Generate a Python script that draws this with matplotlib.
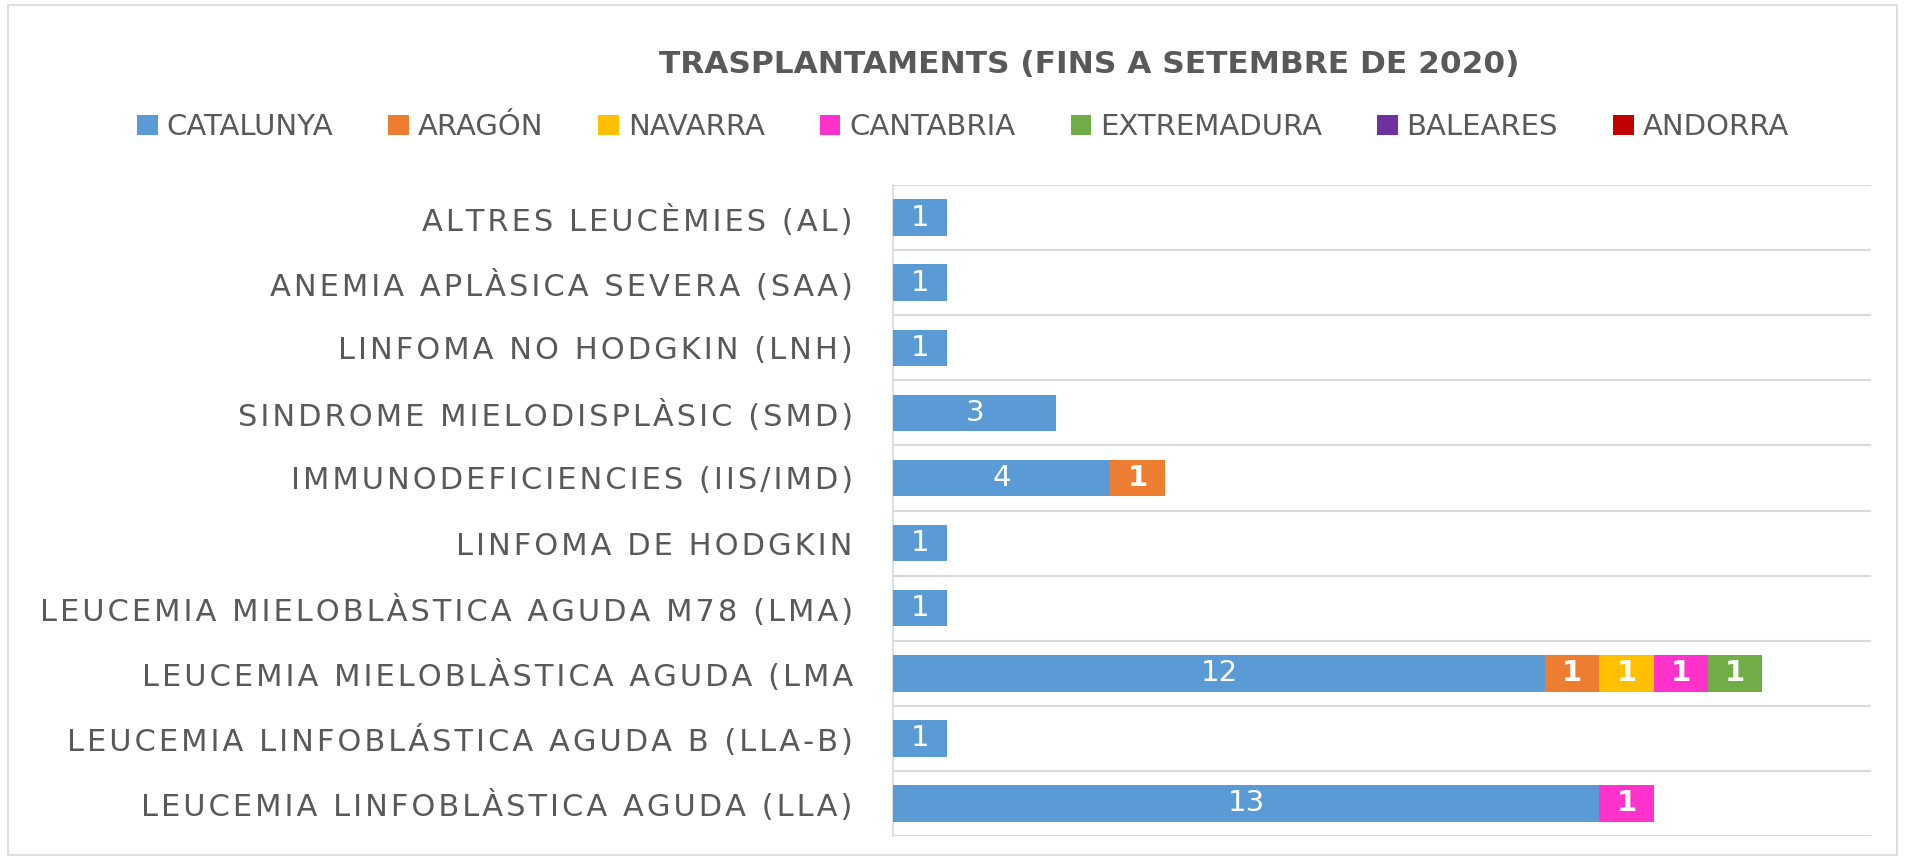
import matplotlib
matplotlib.use("Agg")
import matplotlib.pyplot as plt
import numpy as np

categories = [
    "ALTRES LEUCÈMIES (AL)",
    "ANEMIA APLÀSICA SEVERA (SAA)",
    "LINFOMA NO HODGKIN (LNH)",
    "SINDROME MIELODISPLÀSIC (SMD)",
    "IMMUNODEFICIENCIES (IIS/IMD)",
    "LINFOMA DE HODGKIN",
    "LEUCEMIA MIELOBLÀSTICA AGUDA M78 (LMA)",
    "LEUCEMIA MIELOBLÀSTICA AGUDA (LMA",
    "LEUCEMIA LINFOBLÁSTICA AGUDA B (LLA-B)",
    "LEUCEMIA LINFOBLÀSTICA AGUDA (LLA)",
]
series_names = ["CATALUNYA", "ARAGÓN", "NAVARRA", "CANTABRIA", "EXTREMADURA", "BALEARES", "ANDORRA"]
catalunya   = [1, 1, 1, 3, 4, 1, 1, 12, 1, 13]
aragon      = [0, 0, 0, 0, 1, 0, 0, 1, 0, 0]
navarra     = [0, 0, 0, 0, 0, 0, 0, 1, 0, 0]
cantabria   = [0, 0, 0, 0, 0, 0, 0, 1, 0, 1]
extremadura = [0, 0, 0, 0, 0, 0, 0, 1, 0, 0]
baleares    = [0, 0, 0, 0, 0, 0, 0, 0, 0, 0]
andorra     = [0, 0, 0, 0, 0, 0, 0, 0, 0, 0]
title = "TRASPLANTAMENTS (FINS A SETEMBRE DE 2020)"

colors = ["#5B9BD5", "#ED7D31", "#FFC000", "#FF33CC", "#70AD47", "#7030A0", "#C00000"]
series = [catalunya, aragon, navarra, cantabria, extremadura, baleares, andorra]

plt.rcParams["font.family"] = ["DejaVu Sans"]
TXT = "#595959"
HAIR = "\u200a"


def spaced(s):
    return HAIR.join(s)


fig = plt.figure(figsize=(19.05, 8.58), dpi=100)
ax = fig.add_axes([0.4688, 0.0256, 0.9822 - 0.4688, 0.7844 - 0.0256])

y = np.arange(len(categories))
left = np.zeros(len(categories))
handles = []
for i, (name, vals, col) in enumerate(zip(series_names, series, colors)):
    vals = np.array(vals, dtype=float)
    h = ax.barh(y, vals, left=left, height=0.56, color=col, label=name, zorder=3)
    handles.append(h)
    for yi, v, l in zip(y, vals, left):
        if v > 0:
            ax.text(l + v / 2, yi, f"{int(v)}", ha="center", va="center",
                    color="white", fontsize=21,
                    fontweight="normal" if i == 0 else "bold", zorder=4)
    left += vals

ax.set_xlim(0, 18)
ax.set_ylim(len(categories) - 0.5, -0.5)
ax.set_yticks(y)
ax.set_yticklabels([spaced(c) for c in categories], fontsize=22, color=TXT)
ax.tick_params(axis="y", length=0, pad=29)
ax.set_xticks([])
for gy in np.arange(-0.5, len(categories), 1.0):
    ax.axhline(gy, color="#D9D9D9", lw=1.5, zorder=1)
for s in ["top", "right", "bottom"]:
    ax.spines[s].set_visible(False)
ax.spines["left"].set_color("#D9D9D9")
ax.spines["left"].set_linewidth(1.2)

fig.text(0.572, 0.925, title, ha="center", va="center", fontsize=22.5,
         fontweight="bold", color=TXT)
leg = fig.legend(handles=handles, labels=series_names, loc="center",
                 bbox_to_anchor=(0.5055, 0.852), ncol=7, frameon=False,
                 fontsize=21, handlelength=0.7, handleheight=0.7,
                 handletextpad=0.3, columnspacing=1.9, labelcolor=TXT)

border = plt.Rectangle((0.004, 0.004), 0.992, 0.99, transform=fig.transFigure,
                       fill=False, edgecolor="#D9D9D9", lw=1.2)
fig.patches.append(border)

fig.savefig("out.png", dpi=100)
